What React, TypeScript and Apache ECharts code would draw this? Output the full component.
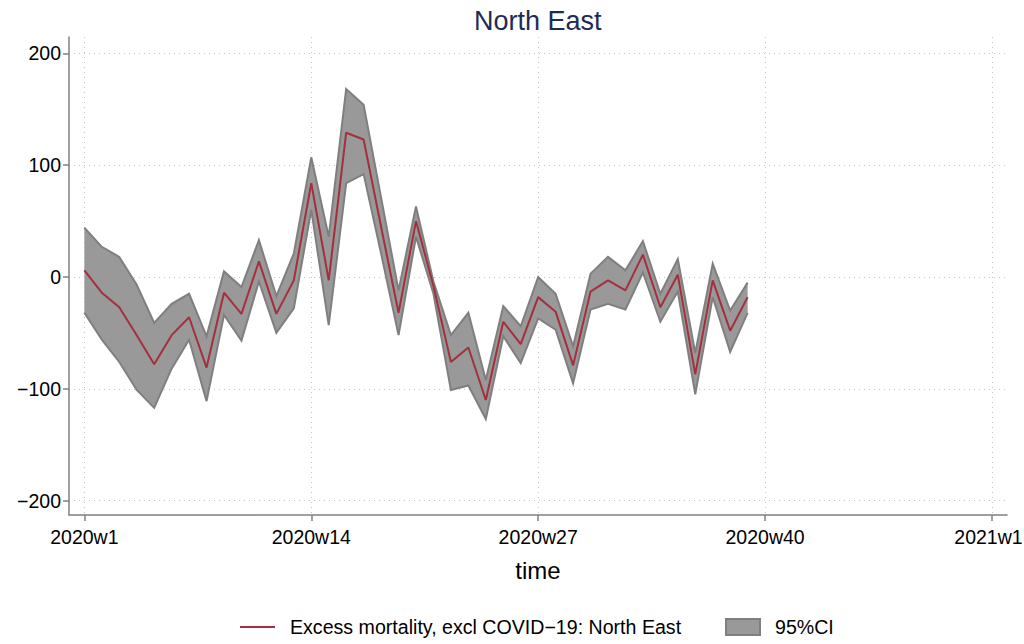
import React, { useEffect, useRef } from "react";
import * as echarts from "echarts";

// Week numbers of 2020 (x position = week - 1, Stata weekly scale)
const weeks = [1, 2, 3, 4, 5, 6, 7, 8, 9, 10, 11, 12, 13, 14, 15, 16, 17, 18, 19, 20, 21, 22, 23, 24, 25, 26, 27, 28, 29, 30, 31, 32, 33, 34, 35, 36, 37, 38, 39];
const excess = [6, -14, -27, -52, -78, -52, -36, -81, -14, -33, 14, -33, -3, 84, -3, 129, 123, 45, -32, 50, -8, -76, -63, -110, -40, -60, -18, -31, -79, -13, -3, -12, 20, -27, 2, -87, -3, -48, -18];
const ciUpper = [44, 27, 18, -7, -41, -24, -15, -53, 5, -9, 33, -17, 21, 107, 36, 168, 154, 71, -12, 63, -4, -52, -32, -92, -26, -44, 0, -15, -62, 3, 18, 6, 32, -15, 16, -68, 12, -30, -5];
const ciLower = [-32, -56, -76, -101, -117, -82, -56, -111, -34, -57, -4, -50, -28, 60, -43, 84, 92, 21, -52, 36, -15, -101, -97, -127, -53, -77, -37, -47, -95, -29, -24, -29, 4, -40, -13, -105, -18, -67, -32];

const xTickValues = [0, 13, 26, 39, 52];
const xTickLabels = ["2020w1", "2020w14", "2020w27", "2020w40", "2021w1"];
const yTickValues = [-200, -100, 0, 100, 200];

const FONT = "'Liberation Sans', Arial, Helvetica, sans-serif";

export default function App() {
  const ref = useRef<HTMLDivElement>(null);

  useEffect(() => {
    if (!ref.current) return;
    const chart = echarts.init(ref.current, null, { renderer: "svg" });
    const xs = weeks.map((w) => w - 1);
    const bandData = xs.map((x, i) => [x, ciLower[i], ciUpper[i]]);
    const lineData = xs.map((x, i) => [x, excess[i]]);
    const gridLine = { show: true, lineStyle: { color: "#c4c4c4", width: 1, type: [1, 4] as any } };

    const renderBand = (params: any, api: any) => {
      if (params.dataIndex !== 0) return null;
      const upperPts = bandData.map((d) => api.coord([d[0], d[2]]));
      const lowerPts = bandData.map((d) => api.coord([d[0], d[1]]));
      const poly = upperPts.concat(lowerPts.slice().reverse());
      return {
        type: "group",
        children: [
          { type: "polygon", shape: { points: poly }, style: { fill: "#999999", stroke: "none" } },
          { type: "polyline", shape: { points: upperPts }, style: { fill: "none", stroke: "#7f7f7f", lineWidth: 2 } },
          { type: "polyline", shape: { points: lowerPts }, style: { fill: "none", stroke: "#7f7f7f", lineWidth: 2 } },
        ],
      };
    };

    const labelStyle = { fontFamily: FONT, fontSize: 19.5, color: "#000" };

    chart.setOption({
      animation: false,
      backgroundColor: "#ffffff",
      title: {
        text: "North East",
        left: 469,
        top: 2,
        textStyle: { fontFamily: FONT, fontSize: 27, fontWeight: "normal", color: "#1c2c55" },
      },
      grid: { left: 69, right: 17, top: 37, bottom: 129, containLabel: false, outerBoundsMode: "none" },
      xAxis: {
        type: "value",
        min: -0.88,
        max: 52.86,
        name: "time",
        nameLocation: "middle",
        nameGap: 43,
        nameTextStyle: { fontFamily: FONT, fontSize: 24, color: "#000" },
        axisLine: { show: true, onZero: false, lineStyle: { color: "#808080", width: 1.5 } },
        axisTick: { show: true, length: 6, customValues: xTickValues, lineStyle: { color: "#808080", width: 1.5 } },
        axisLabel: {
          customValues: xTickValues,
          margin: 12,
          ...labelStyle,
          rich: { edge: { ...labelStyle, padding: [0, 7, 0, 0] } },
          formatter: (v: number) => {
            const k = xTickValues.indexOf(Math.round(v));
            if (k < 0) return "";
            return k === xTickLabels.length - 1 ? "{edge|" + xTickLabels[k] + "}" : xTickLabels[k];
          },
        },
        splitLine: gridLine,
      },
      yAxis: {
        type: "value",
        min: -212.8,
        max: 214.6,
        axisLine: { show: true, onZero: false, lineStyle: { color: "#808080", width: 1.5 } },
        axisTick: { show: true, length: 6, customValues: yTickValues, lineStyle: { color: "#808080", width: 1.5 } },
        axisLabel: {
          customValues: yTickValues,
          margin: 8,
          ...labelStyle,
          formatter: (v: number) => (v < 0 ? "\u2212" + Math.abs(v) : String(v)),
        },
        splitLine: gridLine,
      },
      series: [
        {
          name: "95%CI",
          type: "custom",
          data: bandData,
          encode: { x: 0, y: [1, 2] },
          renderItem: renderBand,
          silent: true,
          z: 2,
        },
        {
          name: "Excess mortality, excl COVID\u221219: North East",
          type: "line",
          data: lineData,
          symbol: "none",
          lineStyle: { color: "#a3303c", width: 2 },
          z: 3,
        },
      ],
      graphic: [
        { type: "line", shape: { x1: 240, y1: 627, x2: 275, y2: 627 }, style: { stroke: "#a3303c", lineWidth: 2 } },
        {
          type: "text",
          x: 290,
          y: 627,
          style: { text: "Excess mortality, excl COVID\u221219: North East", fontFamily: FONT, fontSize: 19.6, fill: "#000", verticalAlign: "middle" },
        },
        { type: "rect", shape: { x: 726, y: 619, width: 34, height: 16 }, style: { fill: "#999999", stroke: "#7f7f7f", lineWidth: 2 } },
        {
          type: "text",
          x: 775,
          y: 627,
          style: { text: "95%CI", fontFamily: FONT, fontSize: 19.6, fill: "#000", verticalAlign: "middle" },
        },
      ],
    });
    return () => chart.dispose();
  }, []);

  return <div ref={ref} style={{ position: "absolute", left: 0, top: 0, width: 1024, height: 644 }} />;
}
